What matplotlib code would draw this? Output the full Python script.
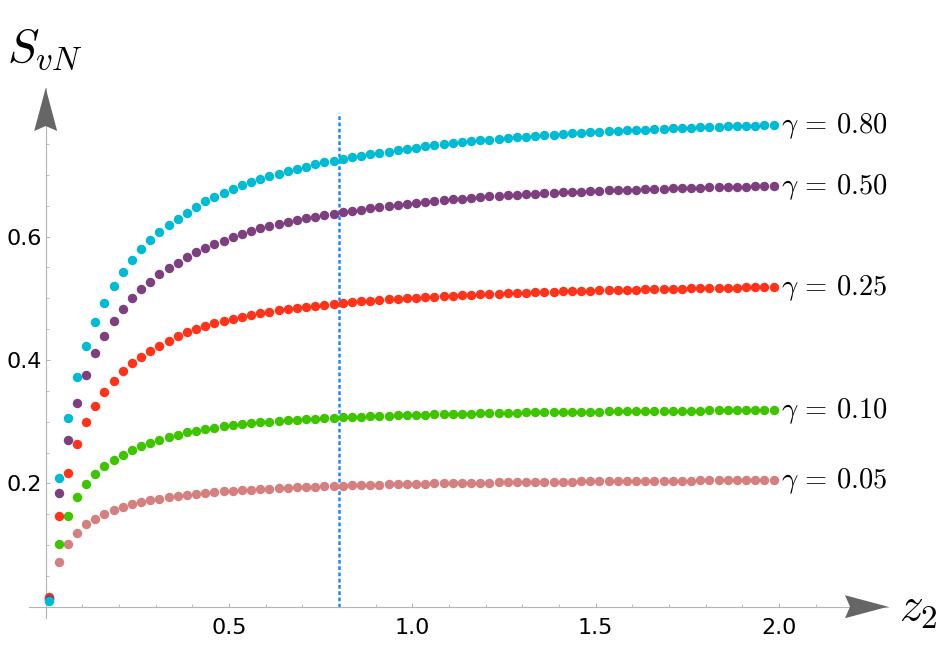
import numpy as np
import matplotlib
matplotlib.use("Agg")
import matplotlib.pyplot as plt
from matplotlib.patches import Polygon
import matplotlib.transforms as mtransforms

plt.rcParams['mathtext.fontset'] = 'cm'
plt.rcParams['font.family'] = ['DejaVu Sans']

# ---------------- data ----------------
z2 = np.round(0.01 + 0.025 * np.arange(80), 4)

gamma_labels = ['0.80', '0.50', '0.25', '0.10', '0.05']

s_080 = [0.009, 0.208, 0.3055, 0.372, 0.423, 0.461, 0.493, 0.520, 0.542, 0.562,
         0.5795, 0.5946, 0.607, 0.619, 0.629, 0.639, 0.648, 0.657, 0.664, 0.671,
         0.677, 0.683, 0.689, 0.694, 0.698, 0.702, 0.706, 0.710, 0.7135, 0.717,
         0.7205, 0.723, 0.726, 0.729, 0.731, 0.734, 0.736, 0.738, 0.740, 0.7425,
         0.7445, 0.7465, 0.7483, 0.7501, 0.7517, 0.7533, 0.7548, 0.7562, 0.7575, 0.7588,
         0.7600, 0.7612, 0.7623, 0.7634, 0.7644, 0.7654, 0.7664, 0.7673, 0.7682, 0.7690,
         0.7698, 0.7706, 0.7714, 0.7721, 0.7728, 0.7735, 0.7741, 0.7748, 0.7754, 0.7760,
         0.7766, 0.7771, 0.7777, 0.7782, 0.7787, 0.7792, 0.7797, 0.7802, 0.7806, 0.7811]

s_050 = [0.013, 0.184, 0.271, 0.331, 0.375, 0.411, 0.4395, 0.463, 0.483, 0.500,
         0.515, 0.527, 0.5395, 0.549, 0.558, 0.5676, 0.5746, 0.582, 0.588, 0.5935,
         0.600, 0.605, 0.6097, 0.614, 0.618, 0.621, 0.624, 0.627, 0.630, 0.6325,
         0.635, 0.6373, 0.640, 0.642, 0.644, 0.646, 0.6476, 0.6497, 0.6514, 0.653,
         0.6546, 0.6562, 0.6577, 0.6592, 0.6605, 0.6618, 0.6630, 0.6641, 0.6652, 0.6662,
         0.6671, 0.6680, 0.6688, 0.6696, 0.6704, 0.6711, 0.6718, 0.6725, 0.6731, 0.6737,
         0.6743, 0.6749, 0.6754, 0.6759, 0.6764, 0.6769, 0.6773, 0.6778, 0.6782, 0.6786,
         0.6790, 0.6794, 0.6797, 0.6801, 0.6804, 0.6808, 0.6811, 0.6814, 0.6817, 0.6820]

s_025 = [0.016, 0.1476, 0.2173, 0.264, 0.299, 0.326, 0.3477, 0.366, 0.3817, 0.3946,
         0.4054, 0.4146, 0.4227, 0.4311, 0.4383, 0.4446, 0.4501, 0.4550, 0.4594, 0.4633,
         0.4668, 0.4701, 0.4730, 0.4757, 0.4781, 0.4804, 0.4825, 0.4845, 0.4863, 0.4880,
         0.4896, 0.4911, 0.4924, 0.4938, 0.4950, 0.4962, 0.4973, 0.4983, 0.4993, 0.5002,
         0.5011, 0.5020, 0.5028, 0.5036, 0.5043, 0.5050, 0.5057, 0.5063, 0.5069, 0.5075,
         0.5081, 0.5087, 0.5092, 0.5097, 0.5102, 0.5107, 0.5111, 0.5116, 0.5120, 0.5124,
         0.5128, 0.5132, 0.5135, 0.5139, 0.5142, 0.5146, 0.5149, 0.5152, 0.5155, 0.5158,
         0.5161, 0.5164, 0.5167, 0.5170, 0.5172, 0.5175, 0.5177, 0.5180, 0.5182, 0.5184]

s_010 = [0.014, 0.1022, 0.1476, 0.178, 0.1984, 0.2152, 0.2276, 0.2384, 0.2465, 0.2541,
         0.2600, 0.2649, 0.2703, 0.2751, 0.2792, 0.2826, 0.2856, 0.2882, 0.2905, 0.2926,
         0.2944, 0.2960, 0.2975, 0.2989, 0.3001, 0.3012, 0.3023, 0.3032, 0.3041, 0.3049,
         0.3057, 0.3064, 0.3071, 0.3077, 0.3083, 0.3088, 0.3093, 0.3098, 0.3103, 0.3107,
         0.3111, 0.3115, 0.3119, 0.3123, 0.3126, 0.3129, 0.3132, 0.3135, 0.3138, 0.3141,
         0.3144, 0.3146, 0.3149, 0.3151, 0.3153, 0.3155, 0.3157, 0.3159, 0.3161, 0.3163,
         0.3165, 0.3167, 0.3168, 0.3170, 0.3171, 0.3173, 0.3174, 0.3176, 0.3177, 0.3179,
         0.3180, 0.3181, 0.3182, 0.3184, 0.3185, 0.3186, 0.3187, 0.3188, 0.3189, 0.3190]

s_005 = [0.012, 0.072, 0.1017, 0.120, 0.1336, 0.1427, 0.1508, 0.1568, 0.1617, 0.166,
         0.1698, 0.173, 0.1751, 0.1774, 0.179, 0.1811, 0.1827, 0.1842, 0.1856, 0.1868,
         0.1880, 0.1890, 0.1899, 0.1908, 0.1916, 0.1924, 0.1931, 0.1937, 0.1943, 0.1949,
         0.1954, 0.1959, 0.1964, 0.1968, 0.1972, 0.1976, 0.1980, 0.1984, 0.1987, 0.1990,
         0.1993, 0.1996, 0.1999, 0.2002, 0.2004, 0.2007, 0.2009, 0.2011, 0.2013, 0.2015,
         0.2017, 0.2019, 0.2021, 0.2023, 0.2025, 0.2026, 0.2028, 0.2030, 0.2031, 0.2032,
         0.2034, 0.2035, 0.2037, 0.2038, 0.2039, 0.2040, 0.2042, 0.2043, 0.2044, 0.2045,
         0.2046, 0.2047, 0.2048, 0.2049, 0.2050, 0.2051, 0.2052, 0.2052, 0.2053, 0.2054]

series = [s_080, s_050, s_025, s_010, s_005]
colors = ['#00bbd4', '#7e3f7e', '#ff3319', '#3fc400', '#d48080']

z_marker = 0.8

# ---------------- figure ----------------
W, H = 947, 657
fig = plt.figure(figsize=(W / 100, H / 100), dpi=100)
ax = fig.add_axes([29 / W, 39 / H, 859 / W, 530 / H])
xmin, xmax = -0.0455, 2.297
ymin, ymax = -0.0183, 0.841
ax.set_xlim(xmin, xmax)
ax.set_ylim(ymin, ymax)

axis_col = '#b4b4b4'
for s in ['top', 'right']:
    ax.spines[s].set_visible(False)
ax.spines['left'].set_position(('data', 0))
ax.spines['bottom'].set_position(('data', 0))
for s in ['left', 'bottom']:
    ax.spines[s].set_color(axis_col)
    ax.spines[s].set_linewidth(0.8)

ax.set_xticks([0.5, 1.0, 1.5, 2.0])
ax.set_xticklabels(['0.5', '1.0', '1.5', '2.0'])
ax.set_xticks(np.arange(0.1, 2.25, 0.1), minor=True)
ax.set_yticks([0.2, 0.4, 0.6])
ax.set_yticklabels(['0.2', '0.4', '0.6'])
ax.set_yticks(np.arange(0.05, 0.78, 0.05), minor=True)
ax.tick_params(axis='both', which='major', direction='in', length=3.2, width=0.7,
               color=axis_col, labelsize=16, labelcolor='black')
ax.tick_params(axis='both', which='minor', direction='in', length=2.0, width=0.6,
               color=axis_col)
ax.tick_params(axis='x', which='major', pad=8)
ax.tick_params(axis='y', which='major', pad=3)

# vertical dotted marker line
ax.plot([z_marker, z_marker], [0, 0.8], color='#1e88ff', lw=1.8,
        linestyle=(0, (1.5, 1.0)), zorder=2)

# series
for vals, col, lab in reversed(list(zip(series, colors, gamma_labels))):
    ax.plot(z2, vals, 'o', color=col, markersize=6.8, markeredgewidth=0,
            zorder=3, clip_on=False)
    ax.annotate(r'$\gamma\,=\,' + lab + '$', xy=(z2[-1], vals[-1]),
                xytext=(5, -6), textcoords='offset points',
                ha='left', va='baseline', fontsize=20.5, color='black',
                annotation_clip=False)

# arrow heads (Mathematica style)
arrow_col = '#666666'
L, hw, notch = 0.43, 0.115, 0.05
xarrow = [(0, 0), (-L, hw), (-L + notch, 0), (-L, -hw)]
yarrow = [(0, 0), (hw, -L), (0, -L + notch), (-hw, -L)]
tx = fig.dpi_scale_trans + mtransforms.ScaledTranslation(xmax, 0, ax.transData)
ty = fig.dpi_scale_trans + mtransforms.ScaledTranslation(0, ymax, ax.transData)
for verts, tr in [(xarrow, tx), (yarrow, ty)]:
    p = Polygon(verts, closed=True, transform=tr, facecolor=arrow_col,
                edgecolor='none', zorder=6, clip_on=False)
    ax.add_artist(p)

# axis labels
fig.text(7 / W, 1 - 62 / H, r'$S_{vN}$', fontsize=34, ha='left', va='baseline')
fig.text(899 / W, 1 - 621 / H, r'$z_2$', fontsize=34, ha='left', va='baseline')

fig.savefig('out.png', dpi=100)
